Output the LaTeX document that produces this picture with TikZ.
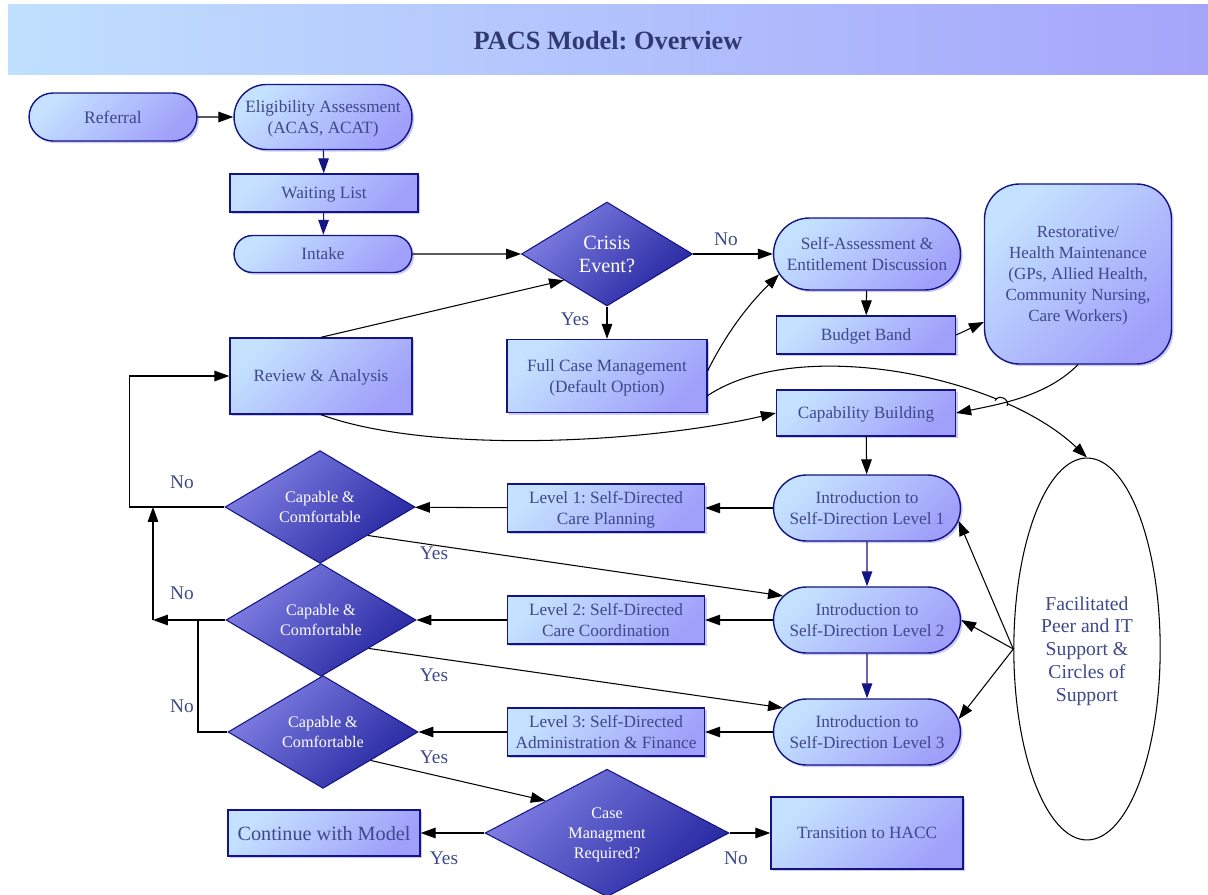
\documentclass[tikz,border=0pt]{standalone}
\usepackage{xcolor}
\usepackage{fontspec}
\setmainfont{Liberation Serif}
\frenchspacing
\usepackage{tikz}
\usetikzlibrary{arrows.meta}
\usetikzlibrary{shapes.geometric,shapes.misc}
\usetikzlibrary{shadows}
\usetikzlibrary{intersections,calc}

\definecolor{pacsText}{RGB}{62,72,138}
\definecolor{pacsTitle}{RGB}{48,58,112}
\definecolor{pacsLine}{RGB}{20,20,135}
\definecolor{pacsLight}{RGB}{196,226,255}
\definecolor{pacsDeep}{RGB}{160,160,250}
\definecolor{pacsDiaLight}{RGB}{128,128,228}
\definecolor{pacsDiaDeep}{RGB}{38,38,160}
\definecolor{pacsShadow}{RGB}{150,150,235}
\definecolor{pacsBarLeft}{RGB}{192,224,255}
\definecolor{pacsBarRight}{RGB}{165,165,250}

\tikzset{
  pacs base/.style={draw=pacsLine, line width=0.8pt, text=pacsText,
    top color=pacsLight, bottom color=pacsDeep, shading angle=45,
    drop shadow={shadow xshift=1.2pt, shadow yshift=-1.2pt, fill=pacsShadow, opacity=0.5},
    align=center, font=\fontsize{9.8}{12}\selectfont, inner sep=2pt, text depth=0pt},
  process/.style={pacs base, rectangle},
  terminal/.style={pacs base, rounded rectangle},
  decision/.style={diamond, draw=pacsLine, line width=0.6pt, text=white,
    top color=pacsDiaLight, bottom color=pacsDiaDeep, shading angle=45,
    inner sep=0pt, text depth=0pt, align=center, font=\fontsize{9.2}{11.3}\selectfont},
  flow/.style={-{Triangle[length=8.5pt,width=6pt]}, line width=0.6pt, black},
  navyflow/.style={-{Triangle[length=8.5pt,width=6pt]}, line width=0.6pt, pacsLine},
  yesno/.style={text=pacsText, font=\fontsize{11}{13}\selectfont},
}

\begin{document}
\begin{tikzpicture}[x=0.02cm, y=-0.02cm]

    \useasboundingbox (0,0) rectangle (1208,895);

    % Title banner
    \shade[left color=pacsBarLeft, right color=pacsBarRight] (8,5) rectangle (1208,75);
    \node[text=pacsTitle, font=\bfseries\fontsize{15}{18}\selectfont] (title) at (608,41) {PACS Model: Overview};

    % Intake chain
    \node[terminal, minimum width=3.5cm, minimum height=0.96cm, font=\fontsize{10}{12}\selectfont] (referral) at (113,117) {Referral};
    \node[terminal, minimum width=3.7cm, minimum height=1.3cm] (elig) at (323,117) {Eligibility Assessment\\(ACAS, ACAT)};
    \node[process, minimum width=3.76cm, minimum height=0.76cm] (waiting) at (324,193) {Waiting List};
    \node[terminal, minimum width=3.7cm, minimum height=0.74cm] (intake) at (323,254) {Intake};

    % Crisis decision
    \node[decision, minimum width=3.42cm, minimum height=2.08cm, font=\fontsize{11.5}{13}\selectfont] (crisis) at (607,254) {Crisis\\Event?};
    \node[process, minimum width=4.0cm, minimum height=1.46cm] (fullcase) at (607,376) {Full Case Management\\(Default Option)};
    \node[process, minimum width=3.64cm, minimum height=1.52cm] (review) at (321,376) {Review \& Analysis};

    % Self-assessment branch
    \node[terminal, minimum width=3.88cm, minimum height=1.44cm] (selfass) at (867,254) {Self-Assessment \&\\Entitlement Discussion};
    \node[process, minimum width=3.58cm, minimum height=0.76cm] (budget) at (866,335) {Budget Band};
    \node[process, rounded corners=0.7cm, minimum width=3.74cm, minimum height=3.6cm, font=\fontsize{9.7}{12}\selectfont] (restor) at (1078,274) {Restorative/\\Health Maintenance\\(GPs, Allied Health,\\Community Nursing,\\Care Workers)};
    \node[process, minimum width=3.58cm, minimum height=0.92cm] (capab) at (866,413) {Capability Building};

    % Self-direction levels
    \node[terminal, minimum width=3.88cm, minimum height=1.32cm] (intro1) at (867,508) {Introduction to\\Self-Direction Level 1};
    \node[terminal, minimum width=3.88cm, minimum height=1.32cm] (intro2) at (867,620) {Introduction to\\Self-Direction Level 2};
    \node[terminal, minimum width=3.88cm, minimum height=1.32cm] (intro3) at (867,732) {Introduction to\\Self-Direction Level 3};

    \node[process, minimum width=3.94cm, minimum height=0.96cm] (lvl1) at (606,508) {Level 1: Self-Directed\\Care Planning};
    \node[process, minimum width=3.94cm, minimum height=0.96cm] (lvl2) at (606,620) {Level 2: Self-Directed\\Care Coordination};
    \node[process, minimum width=3.94cm, minimum height=0.96cm] (lvl3) at (606,732) {Level 3: Self-Directed\\Administration \& Finance};

    \node[decision, minimum width=3.8cm, minimum height=1.9cm] (cap1) at (320,507) {Capable \&\\Comfortable};
    \node[decision, minimum width=3.8cm, minimum height=1.9cm] (cap2) at (321,620) {Capable \&\\Comfortable};
    \node[decision, minimum width=3.8cm, minimum height=1.9cm] (cap3) at (323,732) {Capable \&\\Comfortable};

    % Exit decision
    \node[decision, minimum width=4.88cm, minimum height=2.44cm, text depth=-4.5pt] (casemgmt) at (607,833) {Case\\Managment\\Required?};
    \node[process, minimum width=3.84cm, minimum height=0.92cm, font=\fontsize{11.5}{13}\selectfont] (continue) at (324,833) {Continue with Model};
    \node[process, minimum width=3.84cm, minimum height=1.44cm] (hacc) at (867,833) {Transition to HACC};

    % Support ellipse
    \node[ellipse, draw=black, line width=0.6pt, fill=white, text=pacsText, align=center, text depth=0pt,
      minimum width=2.76cm, minimum height=7.64cm, font=\fontsize{11.2}{13}\selectfont] (facil) at (1087,649)
      {Facilitated\\Peer and IT\\Support \&\\Circles of\\Support};

    % Arrows: intake chain
    \draw[flow] (referral) -- (elig);
    \draw[navyflow] (elig) -- (waiting);
    \draw[navyflow] (waiting) -- (intake);
    \draw[flow] (intake) -- (crisis);

    % Arrows: crisis outcomes
    \draw[flow] (crisis) -- (selfass);
    \draw[flow] (crisis) -- (fullcase);
    \draw[flow] (review.north) -- (crisis.south west);
    \draw[flow] (fullcase.3) .. controls +(20,-40) and +(-30,30) .. (selfass.193);
    \draw[flow, name path=fullArc] (fullcase.-11) .. controls +(90,-60) and +(-87,-83) .. (facil.north);
    \draw[flow] (review.south) .. controls +(110,40) and +(-130,30) .. (capab.west);

    % Line jump where the two arcs cross
    \path[name path=restArc] (restor.south) .. controls +(-30,30) and +(50,-10) .. (capab.east);
    \path[name intersections={of=fullArc and restArc, by=hop}];
    \fill[white] (hop) circle (6);
    \draw[line width=0.6pt] ($(hop)+(-6,-2.6)$) .. controls +(2.8,-7) and +(2.8,-7) .. ($(hop)+(6,2.6)$);

    % Arrows: budget and capability
    \draw[flow] (selfass) -- (budget);
    \draw[flow] (budget.east) -- (restor.207);
    \draw[flow] (restor.south) .. controls +(-30,30) and +(50,-10) .. (capab.east);
    \draw[flow] (capab) -- (intro1);

    % Arrows: levels
    \draw[navyflow] (intro1) -- (intro2);
    \draw[navyflow] (intro2) -- (intro3);
    \foreach \k in {1,2,3} {
      \draw[flow] (intro\k) -- (lvl\k);
      \draw[flow] (lvl\k) -- (cap\k);
    }
    \draw[flow] (cap1.south east) -- (intro2.164);
    \draw[flow] (cap2.south east) -- (intro3.164);
    \draw[flow] (cap3.south east) -- (casemgmt.north west);

    % Arrows: support
    \draw[flow] (facil.west) -- (intro1.-8);
    \draw[flow] (facil.west) -- (intro2.east);
    \draw[flow] (facil.west) -- (intro3.8);

    % Arrows: not capable loops
    \coordinate (noJoin) at (153,620);
    \coordinate (noMerge) at (153,507);
    \coordinate (noTee) at (198,620);
    \draw[flow] (cap1.west) -- ++(-95,0) |- (review.west);
    \draw[flow] (cap2.west) -- (noJoin);
    \draw[flow] (noJoin) -- (noMerge);
    \draw[line width=0.6pt] (cap3.west) -| (noTee);

    % Arrows: exit
    \draw[flow] (casemgmt) -- (continue);
    \draw[flow] (casemgmt) -- (hacc);

    % Labels: yes & no
    \node[yesno] (noCrisis) at (726,239) {No};
    \node[yesno] (yesCrisis) at (575,319) {Yes};
    \node[yesno] (noCap1) at (182,482) {No};
    \node[yesno] (yesCap1) at (434,553) {Yes};
    \node[yesno] (noCap2) at (182,593) {No};
    \node[yesno] (yesCap2) at (434,675) {Yes};
    \node[yesno] (noCap3) at (182,706) {No};
    \node[yesno] (yesCap3) at (434,757) {Yes};
    \node[yesno] (yesExit) at (444,858) {Yes};
    \node[yesno] (noExit) at (736,858) {No};

\end{tikzpicture}
\end{document}
